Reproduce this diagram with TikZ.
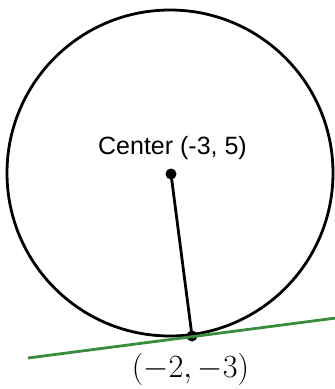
\documentclass[tikz,border=0pt]{standalone}
\usepackage{fontspec}
\setsansfont{Liberation Sans}
\begin{document}
\begin{tikzpicture}[x=1pt,y=-1pt,
  curve/.style={line width=2.8pt,black},
  radius line/.style={line width=2.8pt,black},
  tangent/.style={line width=2.8pt,draw={rgb,255:red,56;green,142;blue,60}},
  dot/.style={circle,fill=black,inner sep=0pt,minimum size=11pt}]
\useasboundingbox (0,0) rectangle (335,389);
\coordinate (O) at (170,173);
\coordinate (C) at (171,174);
\coordinate (P) at (192,336);
\draw[curve] (O) circle[radius=163];
\coordinate (T1) at (28,358);
\coordinate (T2) at (336,318);
\draw[radius line] (C) -- (P);
\node[dot] (cdot) at (C) {};
\node[dot] (pdot) at (P) {};
\draw[tangent] (T1) -- (T2);
\node[font=\sffamily\fontsize{25}{28}\selectfont] (clabel) at (172.5,148.5) {Center (-3, 5)};
\node[font=\fontsize{24.88}{28}\selectfont] (plabel) at (190.5,369) {\scalebox{1.3}{$(-2,-3)$}};
\end{tikzpicture}
\end{document}
